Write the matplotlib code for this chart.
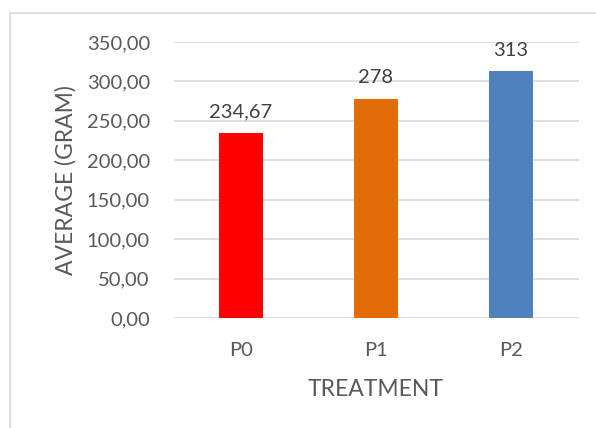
import matplotlib
matplotlib.use("Agg")
import matplotlib.pyplot as plt
from matplotlib.patches import Rectangle

categories = ["P0", "P1", "P2"]
values = [234.67, 278, 313]
value_labels = ["234,67", "278", "313"]
colors = ["#FF0000", "#E36C09", "#4F81BD"]
yticks = [0, 50, 100, 150, 200, 250, 300, 350]

plt.rcParams['font.family'] = ['Lato', 'DejaVu Sans']
txt = "#595959"

fig = plt.figure(figsize=(5.96, 4.28), dpi=100)
W, H = 596, 428
# outer border
fig.patches.append(Rectangle((10 / W, -0.05), 1.1, (428 - 13) / H + 0.05, transform=fig.transFigure,
                             fill=False, edgecolor="#D9D9D9", linewidth=1.2))
ax = fig.add_axes([173.5 / W, 1 - 318 / H, (578.5 - 173.5) / W, (318 - 42) / H])
x = range(len(categories))
ax.bar(x, values, width=0.32, color=colors, zorder=3)
ax.set_xlim(-0.5, 2.5)
ax.set_ylim(0, 350)
ax.set_yticks(yticks)
ax.set_yticklabels([f"{v:.2f}".replace(".", ",") for v in yticks], color=txt, fontsize=14.5)
ax.set_xticks(list(x))
ax.set_xticklabels(categories, color=txt, fontsize=14.5)
ax.tick_params(length=0)
ax.tick_params(axis='y', pad=17)
ax.tick_params(axis='x', pad=17)
ax.grid(axis='y', color="#D9D9D9", linewidth=1.2, zorder=0)
for s in ax.spines.values():
    s.set_visible(False)
for xi, v, lab in zip(x, values, value_labels):
    ax.annotate(lab, (xi, v), xytext=(0, 9), textcoords="offset points", ha="center", va="bottom",
                color="#404040", fontsize=14.5)
ax.set_ylabel("AVERAGE (GRAM)", color=txt, fontsize=16.5, labelpad=7)
ax.set_xlabel("TREATMENT", color=txt, fontsize=16.5, labelpad=15)
fig.savefig("out.png", dpi=100)
